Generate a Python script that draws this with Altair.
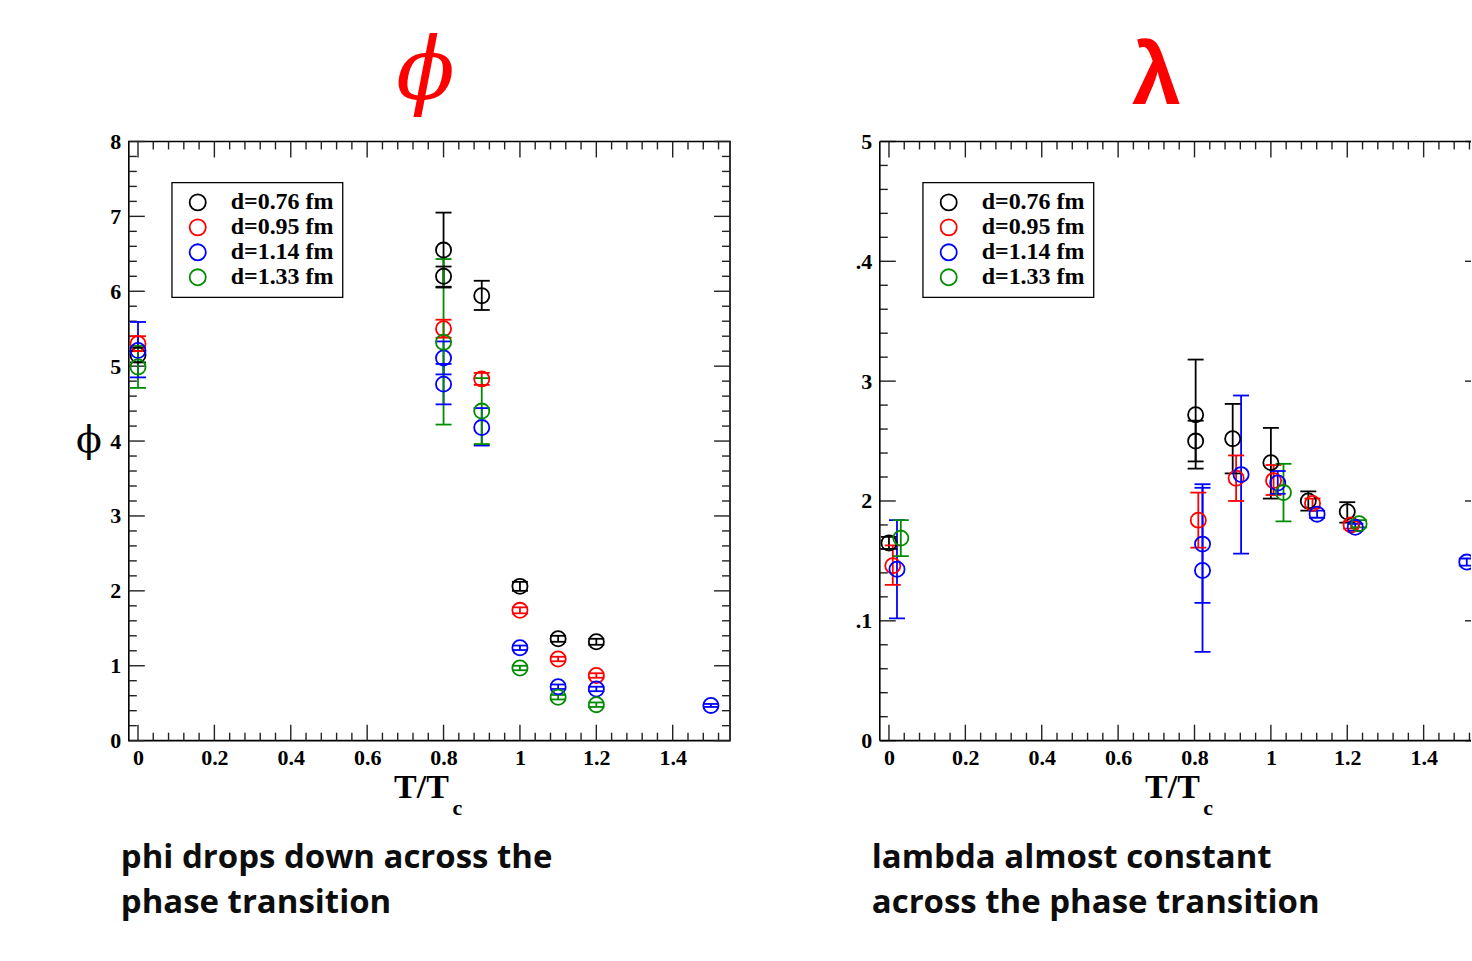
import altair as alt
import pandas as pd

# ---------------- data ----------------
SERIES = ["d=0.76 fm", "d=0.95 fm", "d=1.14 fm", "d=1.33 fm"]
COLORS = ["#000000", "#ff0000", "#0000ff", "#008b00"]

# phi panel (left)
phi_set = [0, 0, 0, 0, 0, 0, 0,
           1, 1, 1, 1, 1, 1,
           2, 2, 2, 2, 2, 2, 2, 2,
           3, 3, 3, 3, 3, 3]
phi_x = [0.0, 0.8, 0.8, 0.9, 1.0, 1.1, 1.2,
         0.0, 0.8, 0.9, 1.0, 1.1, 1.2,
         0.0, 0.8, 0.8, 0.9, 1.0, 1.1, 1.2, 1.5,
         0.0, 0.8, 0.9, 1.0, 1.1, 1.2]
phi_y = [5.15, 6.55, 6.20, 5.94, 2.06, 1.36, 1.32,
         5.30, 5.50, 4.83, 1.74, 1.09, 0.87,
         5.21, 5.11, 4.76, 4.18, 1.24, 0.72, 0.69, 0.47,
         4.99, 5.32, 4.40, 0.97, 0.58, 0.48]
phi_lo = [5.05, 6.05, 6.06, 5.75, 2.00, 1.32, 1.28,
          5.20, 5.38, 4.75, 1.70, 1.06, 0.84,
          4.85, 4.89, 4.49, 3.94, 1.21, 0.69, 0.66, 0.45,
          4.71, 4.22, 3.96, 0.94, 0.55, 0.45]
phi_hi = [5.25, 7.05, 6.33, 6.14, 2.12, 1.40, 1.36,
          5.40, 5.62, 4.91, 1.78, 1.12, 0.90,
          5.59, 5.33, 5.03, 4.44, 1.27, 0.75, 0.72, 0.49,
          5.27, 6.43, 4.84, 1.00, 0.61, 0.51]

# lambda panel (right)
lam_set = [0, 0, 0, 0, 0, 0, 0,
           1, 1, 1, 1, 1, 1,
           2, 2, 2, 2, 2, 2, 2, 2,
           3, 3, 3]
lam_x = [0.0, 0.803, 0.803, 0.900, 1.0, 1.098, 1.2,
         0.010, 0.810, 0.909, 1.007, 1.109, 1.210,
         0.021, 0.821, 0.821, 0.922, 1.018, 1.121, 1.221, 1.513,
         0.031, 1.033, 1.231]
lam_y = [0.165, 0.272, 0.250, 0.252, 0.232, 0.200, 0.191,
         0.146, 0.184, 0.219, 0.217, 0.198, 0.180,
         0.143, 0.164, 0.142, 0.222, 0.215, 0.189, 0.178, 0.149,
         0.169, 0.207, 0.181]
lam_lo = [0.160, 0.227, 0.233, 0.223, 0.202, 0.192, 0.182,
          0.130, 0.161, 0.200, 0.205, 0.194, 0.177,
          0.102, 0.115, 0.074, 0.156, 0.206, 0.186, 0.175, 0.146,
          0.154, 0.183, 0.178]
lam_hi = [0.170, 0.318, 0.267, 0.281, 0.261, 0.208, 0.199,
          0.163, 0.207, 0.238, 0.230, 0.202, 0.183,
          0.184, 0.214, 0.211, 0.288, 0.225, 0.192, 0.181, 0.152,
          0.184, 0.231, 0.184]

# axis ticks / labels
X_MAJOR = [0, 0.2, 0.4, 0.6, 0.8, 1.0, 1.2, 1.4]
X_MINOR = [round(i * 0.04, 2) for i in range(0, 39) if i % 5 != 0]
PHI_Y_MAJOR = [0, 1, 2, 3, 4, 5, 6, 7, 8]
PHI_Y_MINOR = [round(i * 0.2, 1) for i in range(0, 40) if i % 5 != 0]
LAM_Y_MAJOR = [0, 0.1, 0.2, 0.3, 0.4, 0.5]
LAM_Y_MINOR = [round(i * 0.02, 2) for i in range(0, 25) if i % 5 != 0]
LAM_Y_TEXT = ["0", ".1", "2", "3", ".4", "5"]

TITLES = ["\u03d5", "\u03bb"]
CAPTIONS = [["phi drops down across the", "phase transition"],
            ["lambda almost constant", "across the phase transition"]]

# ---------------- layout ----------------
H = 600
W_L = 602
W_R = 592
PHI_XDOM = [-0.024, 1.55]
LAM_XDOM = [-0.024, 1.524]
SERIF = "Liberation Serif"

X_AXIS = alt.Axis(values=X_MAJOR, format="~g", ticks=False, domain=False, grid=False,
                  labelFont=SERIF, labelFontWeight="bold", labelFontSize=22,
                  labelColor="black", labelPadding=7, labelFlush=False, title=None)
PHI_Y_AXIS = alt.Axis(values=PHI_Y_MAJOR, format="~g", ticks=False, domain=False,
                      grid=False, labelFont=SERIF, labelFontWeight="bold",
                      labelFontSize=22, labelColor="black", labelPadding=8,
                      labelFlush=False, title=None)
LAM_Y_AXIS = alt.Axis(values=LAM_Y_MAJOR, ticks=False, domain=False, grid=False,
                      labelExpr="%s[round(datum.value*10)]" % str(LAM_Y_TEXT),
                      labelFont=SERIF, labelFontWeight="bold", labelFontSize=22,
                      labelColor="black", labelPadding=8, labelFlush=False, title=None)
LEGEND = alt.Legend(orient="none", legendX=43, legendY=41, title=None,
                    strokeColor="black", padding=8, symbolOffset=6,
                    symbolType="circle", symbolSize=260, symbolStrokeWidth=1.8,
                    symbolFillColor="transparent",
                    labelFont=SERIF, labelFontWeight="bold", labelFontSize=24,
                    labelColor="black", labelOffset=21, rowPadding=1)


def make_df(s, x, y, lo, hi):
    return pd.DataFrame({"series": [SERIES[i] for i in s], "x": x, "y": y, "lo": lo, "hi": hi})


def one():
    return pd.DataFrame({"a": [0]})


def panel(df, xdom, ydom, W, ymaj, ymin, yaxis, clip, title_text, title_dx,
          title_dy, title_font, title_style, title_weight, title_size, caption,
          right_minor=True, right_major_len=16, border_rules=False, extra=None):
    xs = alt.Scale(domain=xdom, nice=False, zero=False)
    ys = alt.Scale(domain=ydom, nice=False, zero=False)
    cs = alt.Scale(domain=SERIES, range=COLORS)

    def X(f):
        return alt.X(f, scale=xs, axis=X_AXIS)

    def Y(f):
        return alt.Y(f, scale=ys, axis=yaxis)

    def C():
        return alt.Color("series:N", scale=cs, legend=LEGEND)

    layers = []
    if extra is not None:
        layers.extend(extra)

    # ticks drawn inward
    def xt(vals, length, top):
        d = pd.DataFrame({"v": vals})
        if top:
            yy, yy2 = 0, length
        else:
            yy, yy2 = H, H - length
        return alt.Chart(d).mark_rule(color="#222", strokeWidth=1.4).encode(
            x=X("v:Q"), y=alt.value(yy), y2=alt.value(yy2))

    def yt(vals, x0, x1):
        d = pd.DataFrame({"v": vals})
        return alt.Chart(d).mark_rule(color="#222", strokeWidth=1.4).encode(
            y=Y("v:Q"), x=alt.value(x0), x2=alt.value(x1))

    layers += [xt(X_MAJOR, 16, False), xt(X_MINOR, 8, False),
               xt(X_MAJOR, 16, True), xt(X_MINOR, 8, True),
               yt(ymaj, 0, 16), yt(ymin, 0, 8),
               yt(ymaj, W, W - right_major_len)]
    if right_minor:
        layers.append(yt(ymin, W, W - 8))

    if border_rules:
        base = alt.Chart(one()).mark_rule(color="black", strokeWidth=1.6)
        layers += [
            base.encode(x=alt.value(0), y=alt.value(0), y2=alt.value(H)),
            base.encode(x=alt.value(0), x2=alt.value(W), y=alt.value(0)),
            base.encode(x=alt.value(0), x2=alt.value(W), y=alt.value(H)),
        ]

    src = alt.Chart(df)
    bars = src.mark_rule(strokeWidth=1.8, clip=clip).encode(
        x=X("x:Q"), y=Y("lo:Q"), y2="hi:Q", color=C())
    cap_lo = src.mark_rule(strokeWidth=1.8, xOffset=-8, x2Offset=8, clip=clip).encode(
        x=X("x:Q"), x2="x:Q", y=Y("lo:Q"), color=C())
    cap_hi = src.mark_rule(strokeWidth=1.8, xOffset=-8, x2Offset=8, clip=clip).encode(
        x=X("x:Q"), x2="x:Q", y=Y("hi:Q"), color=C())
    pts = src.mark_point(shape="circle", filled=False, size=230, strokeWidth=1.8,
                         opacity=1, clip=clip).encode(
        x=X("x:Q"), y=Y("y:Q"), color=C())
    layers += [bars, cap_lo, cap_hi, pts]

    t1 = alt.Chart(one()).mark_text(
        text=title_text, font=title_font, fontStyle=title_style,
        fontWeight=title_weight, fontSize=title_size, color="#ff0000",
        align="center", baseline="alphabetic").encode(
        x=alt.value(title_dx), y=alt.value(title_dy))
    xt1 = alt.Chart(one()).mark_text(
        text="T/T", font=SERIF, fontWeight="bold", fontSize=34, color="black",
        align="center", baseline="alphabetic").encode(x=alt.value(293), y=alt.value(657))
    xt2 = alt.Chart(one()).mark_text(
        text="c", font=SERIF, fontWeight="bold", fontSize=22, color="black",
        align="left", baseline="alphabetic").encode(x=alt.value(324), y=alt.value(674))
    cap = alt.Chart(one()).mark_text(
        text=caption, font="Open Sans", fontWeight="bold", fontSize=33,
        color="#0d0d0d", align="left", baseline="alphabetic", lineHeight=45).encode(
        x=alt.value(-8), y=alt.value(728))
    layers += [t1, xt1, xt2, cap]
    return alt.layer(*layers)


phi_df = make_df(phi_set, phi_x, phi_y, phi_lo, phi_hi)
lam_df = make_df(lam_set, lam_x, lam_y, lam_lo, lam_hi)

anchor = alt.Chart(one()).mark_rect(opacity=0, fill="white").encode(
    x=alt.value(-128), x2=alt.value(1344), y=alt.value(-140), y2=alt.value(821))
ylab = alt.Chart(one()).mark_text(
    text=TITLES[0], font="DejaVu Serif", fontSize=38, color="black",
    align="center", baseline="middle").encode(x=alt.value(-40), y=alt.value(300))

left = panel(phi_df, PHI_XDOM, [0, 8], W_L, PHI_Y_MAJOR, PHI_Y_MINOR, PHI_Y_AXIS,
             False, TITLES[0], 297, -43, "DejaVu Serif", "italic", "normal", 86,
             CAPTIONS[0], extra=[anchor, ylab]).properties(
    width=W_L, height=H, view=alt.ViewBackground(stroke="black", strokeWidth=1.6))

right = panel(lam_df, LAM_XDOM, [0, 0.5], W_R, LAM_Y_MAJOR, LAM_Y_MINOR, LAM_Y_AXIS,
              True, TITLES[1], 277, -38, "Liberation Sans", "normal", "bold", 88,
              CAPTIONS[1], right_minor=False, right_major_len=6,
              border_rules=True).properties(
    width=W_R, height=H, view=alt.ViewBackground(strokeOpacity=0))

chart = alt.hconcat(left, right, spacing=150, bounds="flush").resolve_scale(
    color="independent").resolve_legend(color="independent").properties(
    padding=0, autosize=alt.AutoSizeParams(type="pad"), background="white"
).configure_legend(strokeWidth=1.3)

chart.save("out.html", embed_options={"renderer": "svg", "actions": False})
